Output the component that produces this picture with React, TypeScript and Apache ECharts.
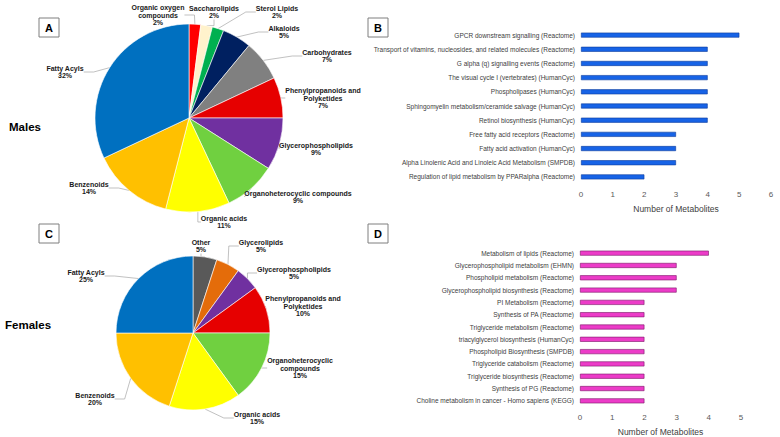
import React, { useEffect, useRef } from "react";
import * as echarts from "echarts";

const maleClasses = [
  "Organic oxygen\ncompounds",
  "Saccharolipids",
  "Sterol Lipids",
  "Alkaloids",
  "Carbohydrates",
  "Phenylpropanoids and\nPolyketides",
  "Glycerophospholipids",
  "Organoheterocyclic compounds",
  "Organic acids",
  "Benzenoids",
  "Fatty Acyls",
];
const malePercents = [2, 2, 2, 5, 7, 7, 9, 9, 11, 14, 32];
const maleColors = [
  "#FF0000", "#FFF2CC", "#00B050", "#002060", "#808080", "#E60000",
  "#7030A0", "#70D040", "#FFFF00", "#FFC000", "#0070C0",
];

const femaleClasses = [
  "Other",
  "Glycerolipids",
  "Glycerophospholipids",
  "Phenylpropanoids and\nPolyketides",
  "Organoheterocyclic\ncompounds",
  "Organic acids",
  "Benzenoids",
  "Fatty Acyls",
];
const femalePercents = [5, 5, 5, 10, 15, 15, 20, 25];
const femaleColors = [
  "#595959", "#E46C0A", "#7030A0", "#E60000", "#70D040", "#FFFF00", "#FFC000", "#0070C0",
];

const malePathways = [
  "GPCR downstream signalling (Reactome)",
  "Transport of vitamins, nucleosides, and related molecules (Reactome)",
  "G alpha (q) signalling events (Reactome)",
  "The visual cycle I (vertebrates) (HumanCyc)",
  "Phospholipases (HumanCyc)",
  "Sphingomyelin metabolism/ceramide salvage (HumanCyc)",
  "Retinol biosynthesis (HumanCyc)",
  "Free fatty acid receptors (Reactome)",
  "Fatty acid activation (HumanCyc)",
  "Alpha Linolenic Acid and Linoleic Acid Metabolism (SMPDB)",
  "Regulation of lipid metabolism by PPARalpha (Reactome)",
];
const maleCounts = [5, 4, 4, 4, 4, 4, 4, 3, 3, 3, 2];

const femalePathways = [
  "Metabolism of lipids (Reactome)",
  "Glycerophospholipid metabolism (EHMN)",
  "Phospholipid metabolism (Reactome)",
  "Glycerophospholipid biosynthesis (Reactome)",
  "PI Metabolism (Reactome)",
  "Synthesis of PA (Reactome)",
  "Triglyceride metabolism (Reactome)",
  "triacylglycerol biosynthesis (HumanCyc)",
  "Phospholipid Biosynthesis (SMPDB)",
  "Triglyceride catabolism (Reactome)",
  "Triglyceride biosynthesis (Reactome)",
  "Synthesis of PG (Reactome)",
  "Choline metabolism in cancer - Homo sapiens (KEGG)",
];
const femaleCounts = [4, 3, 3, 3, 2, 2, 2, 2, 2, 2, 2, 2, 2];

const axisName = "Number of Metabolites";
const FONT = "Liberation Sans, Arial, sans-serif";

// label placement (layout only): centre of each pie label block, in pixels
const maleLabelPlacement = [
  [158, 15], [214, 12], [277, 12], [284, 32], [327, 56], [323, 98],
  [316, 149], [298, 197], [224, 222], [89, 188], [65, 72],
];
const femaleLabelPlacement = [
  [201, 246], [261, 246], [294, 273], [303, 306], [300, 368], [257, 418], [95, 399], [86, 276],
];

function pieSeries(names: string[], values: number[], colors: string[], center: number[], radius: number, placement: number[][]) {
  return {
    type: "pie",
    center,
    radius,
    startAngle: 90,
    clockwise: true,
    avoidLabelOverlap: false,
    itemStyle: { borderColor: "#ffffff", borderWidth: 0.6 },
    label: {
      show: true,
      position: "outside",
      formatter: "{b}\n{c}%",
      fontFamily: FONT,
      fontSize: 7,
      fontWeight: "bold",
      color: "#1a1a1a",
      textBorderWidth: 0,
      lineHeight: 7.5,
    },
    labelLine: { show: true, length: 8, length2: 10, lineStyle: { color: "#A6A6A6", width: 0.7 } },
    labelLayout: (p: any) => {
      const pos = placement[p.dataIndex];
      return { x: pos[0], y: pos[1], align: "center", verticalAlign: "middle" };
    },
    data: names.map((n, i) => ({ name: n, value: values[i], itemStyle: { color: colors[i] } })),
  };
}

function panelBox(letter: string, x: number, y: number) {
  return [
    { type: "rect", shape: { x, y, width: 20, height: 19 }, style: { fill: "#fff", stroke: "#7F7F7F", lineWidth: 1 } },
    {
      type: "text", x: x + 10, y: y + 10,
      style: { text: letter, fontFamily: FONT, fontSize: 11, fontWeight: "bold", fill: "#000", align: "center", verticalAlign: "middle" },
    },
  ];
}

export default function App() {
  const ref = useRef<HTMLDivElement>(null);
  useEffect(() => {
    if (!ref.current) return;
    const chart = echarts.init(ref.current, null, { renderer: "svg" });
    const catLabel = { fontFamily: FONT, fontSize: 6.5, color: "#404040", margin: 6 };
    const valLabel = { fontFamily: FONT, fontSize: 8, color: "#595959", margin: 6 };
    const nameStyle = { fontFamily: FONT, fontSize: 8.5, color: "#404040" };
    chart.setOption({
      animation: false,
      backgroundColor: "#ffffff",
      grid: [
        { left: 581, top: 28, width: 190, height: 156 },
        { left: 580, top: 247, width: 161, height: 160 },
      ],
      xAxis: [
        {
          gridIndex: 0, type: "value", min: 0, max: 6, interval: 1,
          axisLine: { show: false }, axisTick: { show: false }, splitLine: { show: false },
          axisLabel: valLabel, name: axisName, nameLocation: "middle", nameGap: 20, nameTextStyle: nameStyle,
        },
        {
          gridIndex: 1, type: "value", min: 0, max: 5, interval: 1,
          axisLine: { show: false }, axisTick: { show: false }, splitLine: { show: false },
          axisLabel: valLabel, name: axisName, nameLocation: "middle", nameGap: 20, nameTextStyle: nameStyle,
        },
      ],
      yAxis: [
        {
          gridIndex: 0, type: "category", inverse: true, data: malePathways,
          axisLine: { show: false }, axisTick: { show: false }, axisLabel: catLabel,
        },
        {
          gridIndex: 1, type: "category", inverse: true, data: femalePathways,
          axisLine: { show: false }, axisTick: { show: false }, axisLabel: catLabel,
        },
      ],
      series: [
        pieSeries(maleClasses, malePercents, maleColors, [189, 118], 94, maleLabelPlacement),
        pieSeries(femaleClasses, femalePercents, femaleColors, [193, 333], 77, femaleLabelPlacement),
        {
          type: "bar", xAxisIndex: 0, yAxisIndex: 0, data: maleCounts, barWidth: 5,
          itemStyle: { color: "#1763E6", borderColor: "#0B3A9A", borderWidth: 0.6 },
        },
        {
          type: "bar", xAxisIndex: 1, yAxisIndex: 1, data: femaleCounts, barWidth: 5,
          itemStyle: { color: "#EC3CC8", borderColor: "#7A1466", borderWidth: 0.6 },
        },
      ],
      graphic: [
        ...panelBox("A", 39, 18),
        ...panelBox("B", 368, 18),
        ...panelBox("C", 39, 224),
        ...panelBox("D", 368, 224),
        { type: "text", x: 9, y: 127, style: { text: "Males", fontFamily: FONT, fontSize: 11.5, fontWeight: "bold", fill: "#000", verticalAlign: "middle" } },
        { type: "text", x: 5, y: 325, style: { text: "Females", fontFamily: FONT, fontSize: 11.5, fontWeight: "bold", fill: "#000", verticalAlign: "middle" } },
      ],
    });
    return () => chart.dispose();
  }, []);
  return <div ref={ref} style={{ position: "absolute", left: 0, top: 0, width: 780, height: 437 }} />;
}
